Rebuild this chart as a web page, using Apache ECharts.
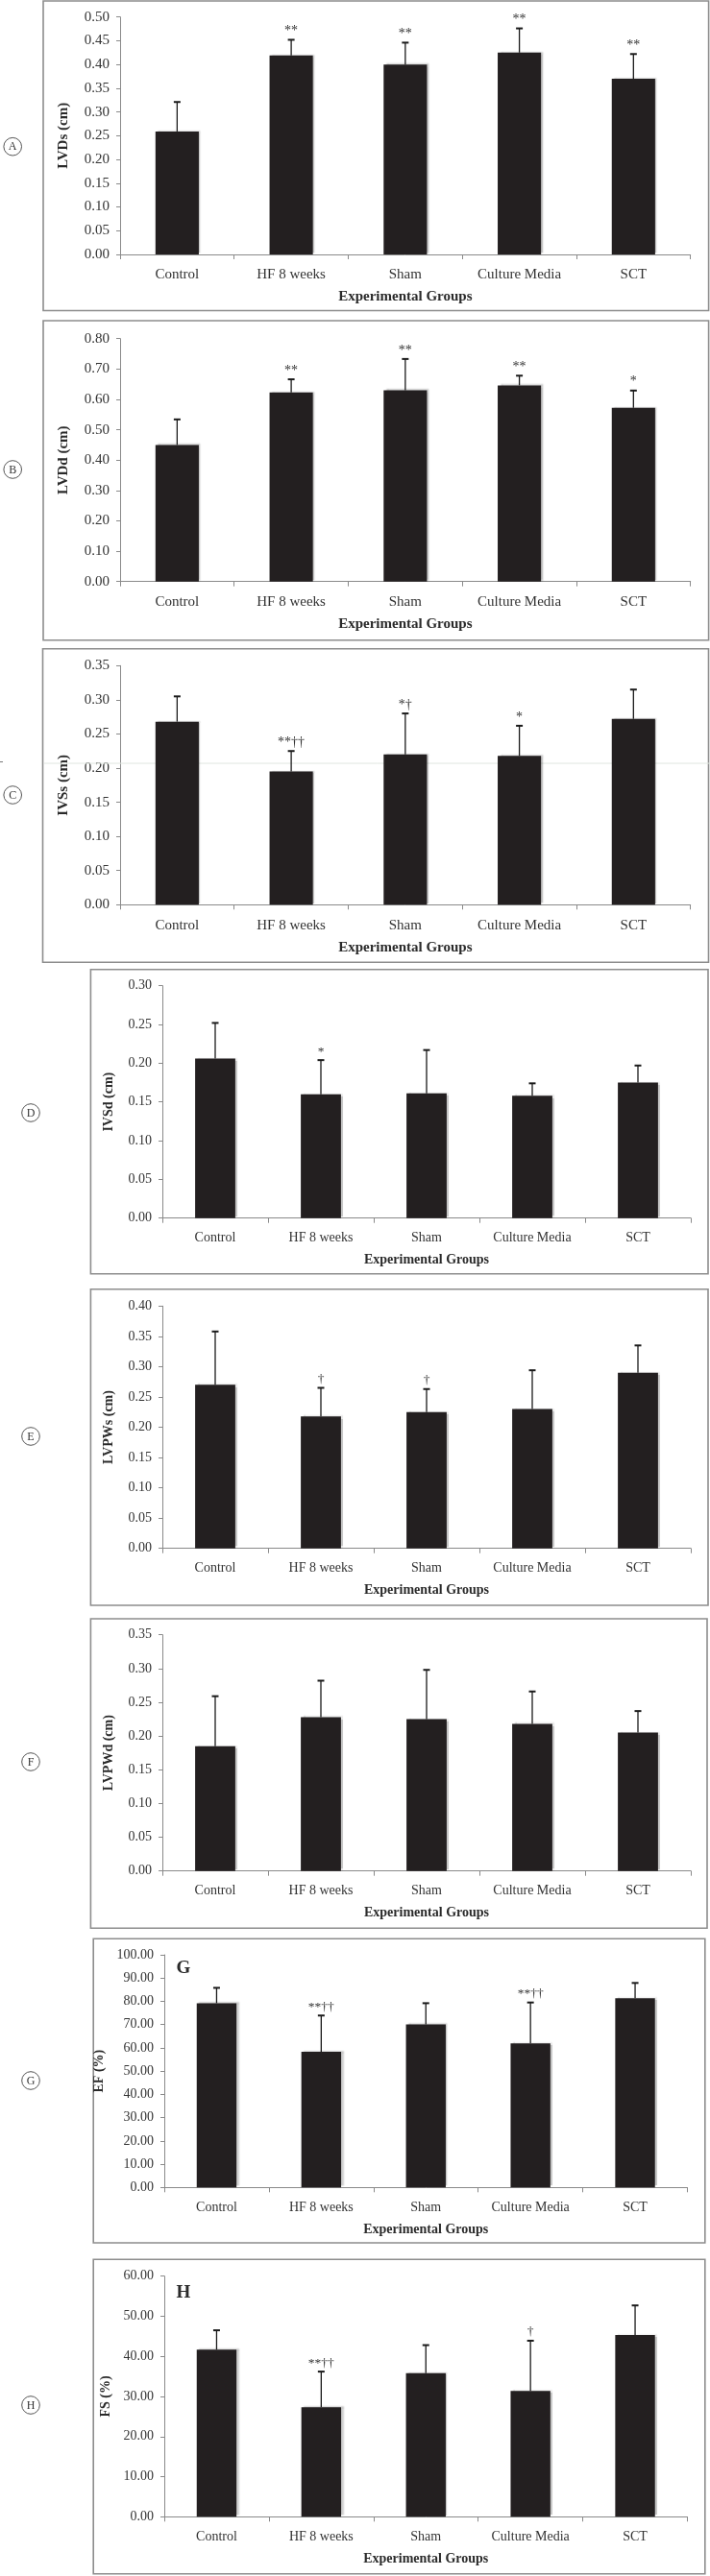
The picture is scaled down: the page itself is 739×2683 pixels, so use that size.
<!DOCTYPE html>
<html>
<head>
<meta charset="utf-8">
<script src="https://cdn.jsdelivr.net/npm/echarts@6/dist/echarts.min.js"></script>
<style>
html,body{margin:0;padding:0;background:#fff;}
#c{width:739px;height:2683px;}
</style>
</head>
<body>
<div id="c"></div>
<script>
// ---------- DATA ----------
const categories = ['Control', 'HF 8 weeks', 'Sham', 'Culture Media', 'SCT'];
const xTitle = 'Experimental Groups';

const lvdsMean  = [0.259, 0.419, 0.400, 0.425, 0.370];
const lvdsSD    = [0.062, 0.033, 0.046, 0.051, 0.052];
const lvdsSig   = ['', '**', '**', '**', '**'];

const lvddMean  = [0.450, 0.623, 0.630, 0.646, 0.572];
const lvddSD    = [0.084, 0.043, 0.103, 0.032, 0.057];
const lvddSig   = ['', '**', '**', '**', '*'];

const ivssMean  = [0.268, 0.195, 0.220, 0.218, 0.272];
const ivssSD    = [0.037, 0.030, 0.060, 0.044, 0.043];
const ivssSig   = ['', '**††', '*†', '*', ''];

const ivsdMean  = [0.206, 0.160, 0.161, 0.158, 0.175];
const ivsdSD    = [0.046, 0.044, 0.056, 0.016, 0.022];
const ivsdSig   = ['', '*', '', '', ''];

const lvpwsMean = [0.270, 0.218, 0.225, 0.230, 0.290];
const lvpwsSD   = [0.088, 0.047, 0.038, 0.064, 0.045];
const lvpwsSig  = ['', '†', '†', '', ''];

const lvpwdMean = [0.185, 0.228, 0.225, 0.218, 0.205];
const lvpwdSD   = [0.074, 0.054, 0.073, 0.048, 0.032];
const lvpwdSig  = ['', '', '', '', ''];

const efMean    = [79.2, 58.3, 70.1, 61.9, 81.3];
const efSD      = [6.6, 15.6, 9.1, 17.6, 6.6];
const efSig     = ['', '**††', '', '**††', ''];

const fsMean    = [41.7, 27.3, 35.8, 31.4, 45.3];
const fsSD      = [4.8, 8.9, 7.0, 12.5, 7.4];
const fsSig     = ['', '**††', '', '†', ''];

const yTitles   = ['LVDs (cm)', 'LVDd (cm)', 'IVSs (cm)', 'IVSd (cm)', 'LVPWs (cm)', 'LVPWd (cm)', 'EF (%)', 'FS (%)'];
const yMax      = [0.50, 0.80, 0.35, 0.30, 0.40, 0.35, 100, 60];
const yStep     = [0.05, 0.10, 0.05, 0.05, 0.05, 0.05, 10, 10];
const panelTags = ['A', 'B', 'C', 'D', 'E', 'F', 'G', 'H'];

const means = [lvdsMean, lvddMean, ivssMean, ivsdMean, lvpwsMean, lvpwdMean, efMean, fsMean];
const sds   = [lvdsSD, lvddSD, ivssSD, ivsdSD, lvpwsSD, lvpwdSD, efSD, fsSD];
const sigs  = [lvdsSig, lvddSig, ivssSig, ivsdSig, lvpwsSig, lvpwdSig, efSig, fsSig];

// ---------- LAYOUT (styles only) ----------
const layout = [
  {box:[45,1,692.6,322.5],      grid:[125,17.7,593.7,247.3], fs:15, yGap:51.5, circle:[13.2,152.7]},
  {box:[45,334,692.6,332.7],    grid:[125,352.7,593.7,253],  fs:15, yGap:51.5, circle:[13.2,489]},
  {box:[44.5,675.7,693,326.6],  grid:[125,693.3,593.7,249],  fs:15, yGap:51.5, circle:[13.2,828]},
  {box:[94.4,1009.7,642.6,317], grid:[169,1026.7,550,242],   fs:14, yGap:48.5, circle:[32,1159]},
  {box:[94.4,1342.7,642.6,329.3],grid:[169,1360.3,550,252.4],fs:14, yGap:48.5, circle:[32,1496]},
  {box:[94.4,1686,641.6,322.3], grid:[169,1702.7,550,246],   fs:14, yGap:48.5, circle:[32,1835]},
  {box:[97.2,2019.3,636.6,316.7],grid:[171,2036,544.5,242.3],fs:14, yGap:54,   circle:[32,2167], inner:[191,2050]},
  {box:[97.2,2353.3,636.6,327.4],grid:[171,2370.7,544.5,250.6],fs:14,yGap:54,  circle:[32,2505], inner:[191,2388]}
];

const SERIF = '"Liberation Serif", "Times New Roman", serif';
const AXIS_COLOR = '#8a8a8a';
const BAR_COLOR = '#231f20';

const chart = echarts.init(document.getElementById('c'), null, {renderer: 'canvas'});

const grids = [], xAxes = [], yAxes = [], series = [], graphics = [];

layout.forEach((L, k) => {
  grids.push({left: L.grid[0], top: L.grid[1], width: L.grid[2], height: L.grid[3], containLabel: false});
  xAxes.push({
    type: 'category', gridIndex: k, data: categories,
    axisLine: {show: true, lineStyle: {color: AXIS_COLOR, width: 1}},
    axisTick: {show: true, length: 5, lineStyle: {color: AXIS_COLOR}},
    axisLabel: {fontFamily: SERIF, fontSize: L.fs, color: '#333', margin: 14, interval: 0},
    name: xTitle, nameLocation: 'middle', nameGap: 37,
    nameTextStyle: {fontFamily: SERIF, fontSize: L.fs, fontWeight: 'bold', color: '#2a2a2a'}
  });
  yAxes.push({
    type: 'value', gridIndex: k, min: 0, max: yMax[k], interval: yStep[k],
    axisLine: {show: true, lineStyle: {color: AXIS_COLOR, width: 1}},
    axisTick: {show: true, length: 4, lineStyle: {color: AXIS_COLOR}},
    splitLine: {show: false},
    axisLabel: {fontFamily: SERIF, fontSize: L.fs, color: '#333', margin: 11,
      formatter: v => v.toFixed(2)},
    name: yTitles[k], nameLocation: 'middle', nameGap: L.yGap,
    nameTextStyle: {fontFamily: SERIF, fontSize: L.fs, fontWeight: 'bold', color: '#2a2a2a'}
  });
  series.push({
    type: 'bar', xAxisIndex: k, yAxisIndex: k, data: means[k], barWidth: '38%',
    itemStyle: {color: BAR_COLOR, shadowColor: 'rgba(0,0,0,0.22)', shadowBlur: 1.5, shadowOffsetX: 2.5, shadowOffsetY: -1},
    silent: true, z: 2
  });
  const errData = means[k].map((m, i) => [i, m, +(m + sds[k][i]).toFixed(4)]);
  const sigFont = (L.fs === 15 ? 14 : 13.5) + 'px ' + SERIF;
  series.push({
    type: 'custom', xAxisIndex: k, yAxisIndex: k, data: errData, z: 5, silent: true,
    renderItem: function (params, api) {
      const i = api.value(0), m = api.value(1), t = api.value(2);
      const base = api.coord([i, m]);
      const top = api.coord([i, t]);
      const x = base[0];
      const children = [
        {type: 'line', shape: {x1: x, y1: base[1], x2: x, y2: top[1]}, style: {stroke: '#1a1a1a', lineWidth: 1.3}},
        {type: 'line', shape: {x1: x - 3.5, y1: top[1], x2: x + 3.5, y2: top[1]}, style: {stroke: '#1a1a1a', lineWidth: 2}}
      ];
      const s = sigs[k][params.dataIndex];
      if (s) {
        children.push({type: 'text', style: {text: s, x: x, y: top[1] - 2, align: 'center', verticalAlign: 'bottom', font: sigFont, fill: '#333'}});
      }
      return {type: 'group', children: children};
    }
  });
  // panel frame
  graphics.push({type: 'rect', shape: {x: L.box[0], y: L.box[1], width: L.box[2], height: L.box[3]},
    style: {fill: 'none', stroke: '#8d8d8d', lineWidth: 1.6}, silent: true, z: 0});
  // circled letter
  graphics.push({type: 'circle', shape: {cx: L.circle[0], cy: L.circle[1], r: 9.3},
    style: {fill: '#fff', stroke: '#555', lineWidth: 1}, silent: true});
  graphics.push({type: 'text', x: L.circle[0], y: L.circle[1] + 0.5,
    style: {text: panelTags[k], font: '12px ' + SERIF, fill: '#333', align: 'center', verticalAlign: 'middle'}, silent: true});
  if (L.inner) {
    graphics.push({type: 'text', x: L.inner[0], y: L.inner[1],
      style: {text: panelTags[k], font: 'bold 19px ' + SERIF, fill: '#2a2a2a', align: 'center', verticalAlign: 'middle'}, silent: true});
  }
});

chart.setOption({
  animation: false,
  backgroundColor: '#fff',
  grid: grids, xAxis: xAxes, yAxis: yAxes, series: series,
  graphic: {elements: graphics}
});

// faint scan line crossing panel C
const artifactValue = 0.207;
const yPix = chart.convertToPixel({yAxisIndex: 2}, artifactValue);
graphics.push({type: 'line', shape: {x1: 46, y1: yPix, x2: 739, y2: yPix},
  style: {stroke: '#dfe6df', lineWidth: 1}, silent: true, z: 1});
graphics.push({type: 'line', shape: {x1: 0, y1: yPix - 1.5, x2: 3, y2: yPix - 1.5},
  style: {stroke: '#777', lineWidth: 1}, silent: true});
chart.setOption({graphic: {elements: graphics}}, {replaceMerge: ['graphic']});
</script>
</body>
</html>
